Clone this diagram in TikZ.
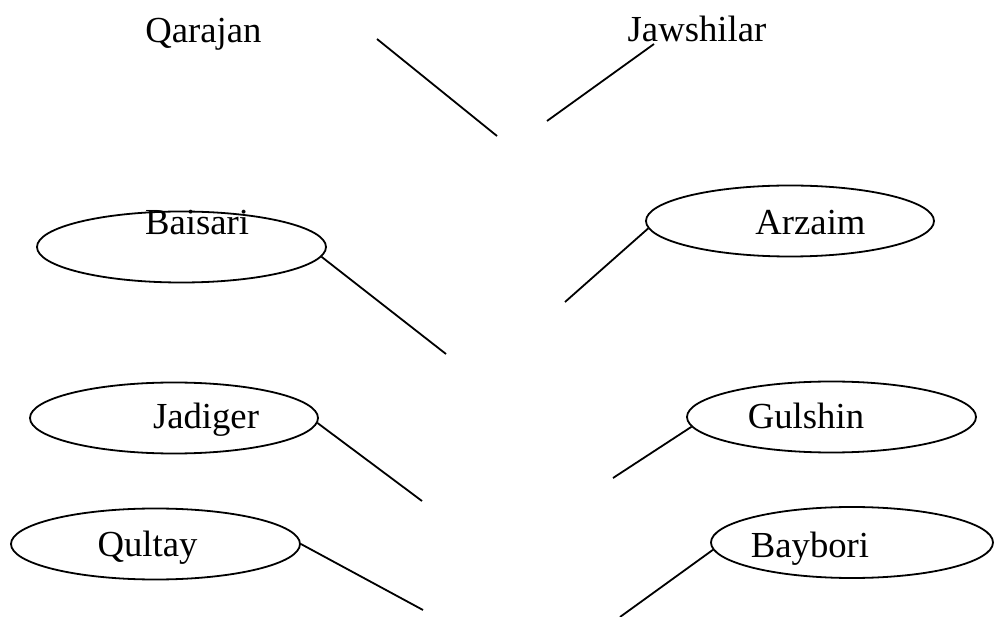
\documentclass[tikz,border=0pt]{standalone}
\usepackage{fontspec}
\setmainfont{Liberation Serif}
\usetikzlibrary{shapes.geometric}
\begin{document}
\begin{tikzpicture}[x=1pt,y=-1pt,
	clan/.style={draw, ellipse, line width=1.8pt, inner sep=0pt, minimum width=#1, minimum height=71pt},
	clan/.default=289pt,
	clanname/.style={anchor=base, inner sep=0pt, font=\fontsize{36.7}{44}\selectfont},
	twig/.style={line width=1.8pt}]
	\useasboundingbox (0,0) rectangle (994,617);
	% top names, no ovals
	\node [clanname] (qar) at (203.5,43) {Qarajan};
	\node [clanname] (jaw) at (697,42) {Jawshilar};
	\coordinate (qarA) at (377,39);
	\coordinate (qarB) at (497,136);
	\coordinate (jawA) at (654,44);
	\coordinate (jawB) at (547,121);
	\draw [twig] (qarA) -- (qarB);
	\draw [twig] (jawA) -- (jawB);
	% ovals
	\node [clan] (bai) at (181.5,247) {};
	\node [clan=288pt] (arz) at (790,221) {};
	\node [clan=288pt] (jad) at (174,418) {};
	\node [clan] (gul) at (831.5,417) {};
	\node [clan] (qul) at (155.5,544) {};
	\node [clan=282pt] (bay) at (852,542.5) {};
	\node [clanname] (baiT) at (197,235) {Baisari};
	\node [clanname] (arzT) at (810.5,235) {Arzaim};
	\node [clanname] (jadT) at (206,429) {Jadiger};
	\node [clanname] (gulT) at (806,429) {Gulshin};
	\node [clanname] (qulT) at (147.5,557) {Qultay};
	\node [clanname] (bayT) at (810,558) {Baybori};
	% free ends of the branches
	\coordinate (baiE) at (446,354);
	\coordinate (arzE) at (565,302);
	\coordinate (jadE) at (422,501);
	\coordinate (gulE) at (613,478);
	\coordinate (qulE) at (423,610);
	\coordinate (bayE) at (620,617);
	\draw [twig] (bai.-4) -- (baiE);
	\draw [twig] (arz.183) -- (arzE);
	\draw [twig] (jad.-2) -- (jadE);
	\draw [twig] (gul.184) -- (gulE);
	\draw [twig] (qul.0) -- (qulE);
	\draw [twig] (bay.183.5) -- (bayE);
\end{tikzpicture}
\end{document}
